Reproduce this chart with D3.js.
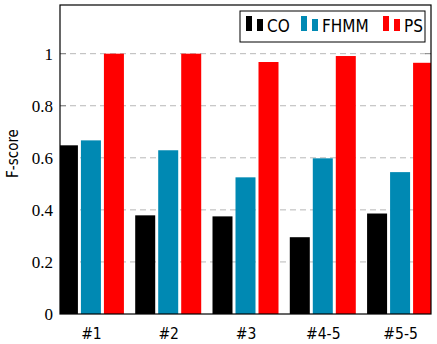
<!DOCTYPE html>
<html>
<head>
<meta charset="utf-8">
<script src="https://d3js.org/d3.v7.min.js"></script>
<style>
  body { margin: 0; background: #fff; }
  svg { display: block; }
</style>
</head>
<body>
<script>
var categories = ["#1", "#2", "#3", "#4-5", "#5-5"];
var seriesNames = ["CO", "FHMM", "PS"];
var coValues = [0.648, 0.379, 0.375, 0.295, 0.386];
var fhmmValues = [0.667, 0.629, 0.525, 0.598, 0.545];
var psValues = [1.0, 1.0, 0.968, 0.991, 0.965];
var yTicks = [0, 0.2, 0.4, 0.6, 0.8, 1];
var colors = ["#000000", "#0089b3", "#ff0000"];

var width = 437, height = 344;
var margin = {top: 5, right: 6, bottom: 30, left: 60};
var plotW = width - margin.left - margin.right;
var plotH = height - margin.top - margin.bottom;

var svg = d3.select("body").append("svg")
  .attr("width", width)
  .attr("height", height);

var g = svg.append("g")
  .attr("transform", "translate(" + margin.left + "," + margin.top + ")");

var xScale = d3.scalePoint().domain(categories).range([0, plotW]).padding(0.4);
var yScale = d3.scaleLinear().domain([0, 1.187]).range([plotH, 0]);

var barW = 20;
var barOffsets = [-23, 0, 23];

g.append("clipPath").attr("id", "plotclip")
  .append("rect").attr("width", plotW).attr("height", plotH);

// grid lines
g.selectAll(".grid")
  .data(yTicks.filter(function(d){ return d > 0; }))
  .enter().append("line")
  .attr("x1", 0).attr("x2", plotW)
  .attr("y1", function(d){ return yScale(d); })
  .attr("y2", function(d){ return yScale(d); })
  .attr("stroke", "#b8b8b8")
  .attr("stroke-width", 1)
  .attr("stroke-dasharray", "6,4");

// small tick marks on both sides
yTicks.filter(function(d){ return d > 0; }).forEach(function(t) {
  g.append("line").attr("x1", 0).attr("x2", 6)
    .attr("y1", yScale(t)).attr("y2", yScale(t))
    .attr("stroke", "#808080");
  g.append("line").attr("x1", plotW - 6).attr("x2", plotW)
    .attr("y1", yScale(t)).attr("y2", yScale(t))
    .attr("stroke", "#808080");
});

var allSeries = [coValues, fhmmValues, psValues];
var bars = g.append("g").attr("clip-path", "url(#plotclip)");
allSeries.forEach(function(vals, si) {
  bars.selectAll(".bar" + si)
    .data(vals)
    .enter().append("rect")
    .attr("x", function(d, i){ return xScale(categories[i]) + barOffsets[si] - barW / 2; })
    .attr("y", function(d){ return yScale(d); })
    .attr("width", barW)
    .attr("height", function(d){ return plotH - yScale(d); })
    .attr("fill", colors[si]);
});

// frame
g.append("rect")
  .attr("x", 0).attr("y", 0)
  .attr("width", plotW).attr("height", plotH)
  .attr("fill", "none")
  .attr("stroke", "#000")
  .attr("stroke-width", 1.2);

// y tick labels
var yAxis = d3.axisLeft(yScale).tickValues(yTicks).tickSize(0).tickPadding(7)
  .tickFormat(function(d){ return d === 0 || d === 1 ? String(d) : d3.format(".1f")(d); });
var yG = g.append("g").call(yAxis);
yG.select(".domain").remove();
yG.selectAll("text")
  .attr("font-family", "'Liberation Serif', serif")
  .attr("font-size", 17)
  .attr("fill", "#000");

// x tick labels
var xAxis = d3.axisBottom(xScale).tickSize(0).tickPadding(14);
var xG = g.append("g").attr("transform", "translate(0," + plotH + ")").call(xAxis);
xG.select(".domain").remove();
xG.selectAll("text")
  .attr("font-family", "'DejaVu Sans Condensed', 'DejaVu Sans', sans-serif")
  .attr("font-size", 15.5)
  .attr("fill", "#000");

// y label
svg.append("text")
  .attr("transform", "translate(18,153.5) rotate(-90)")
  .attr("text-anchor", "middle")
  .attr("font-family", "'DejaVu Sans Condensed', 'DejaVu Sans', sans-serif")
  .attr("font-size", 15)
  .text("F-score");

// legend
var legend = svg.append("g").attr("transform", "translate(240,11)");
legend.append("rect")
  .attr("width", 185).attr("height", 31)
  .attr("fill", "#fff").attr("stroke", "#000").attr("stroke-width", 1);
var legendX = [6, 61, 143];
seriesNames.forEach(function(name, i) {
  var lg = legend.append("g").attr("transform", "translate(" + legendX[i] + ",0)");
  lg.append("rect").attr("x", 0).attr("y", 5).attr("width", 6).attr("height", 15).attr("fill", colors[i]);
  lg.append("rect").attr("x", 11).attr("y", 8).attr("width", 6).attr("height", 12).attr("fill", colors[i]);
  lg.append("text")
    .attr("x", 21).attr("y", 21)
    .attr("font-family", "'DejaVu Sans Condensed', 'DejaVu Sans', sans-serif")
    .attr("font-size", 17)
    .text(name);
});
</script>
</body>
</html>
